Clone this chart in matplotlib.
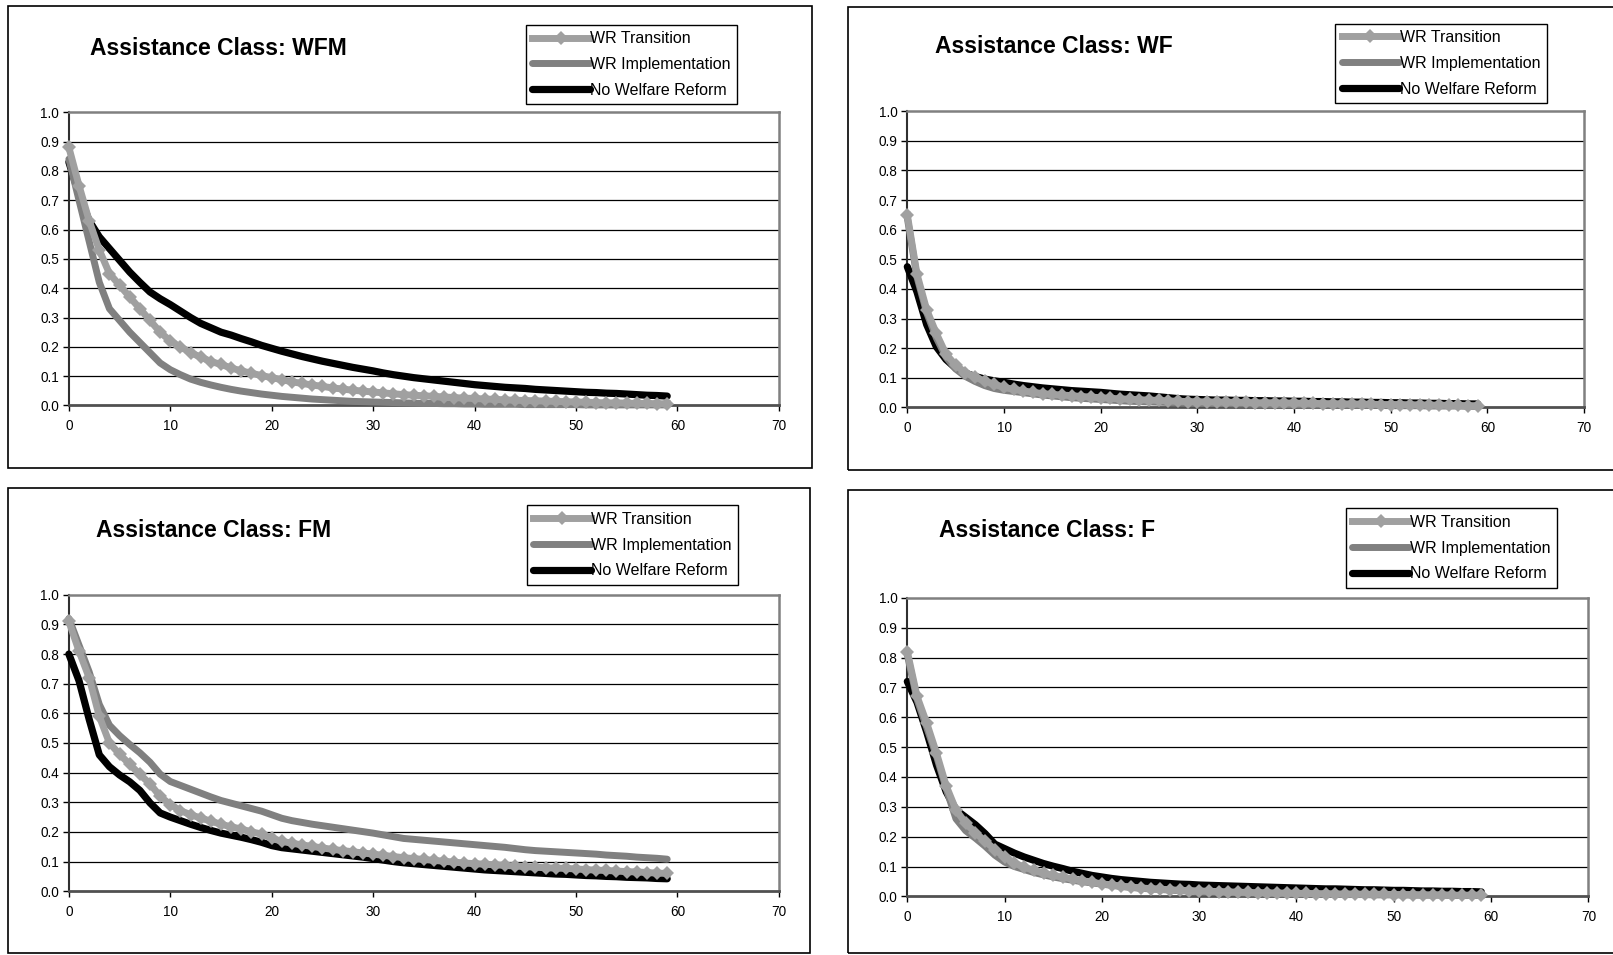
import matplotlib
matplotlib.use("Agg")
import matplotlib.pyplot as plt
from matplotlib.patches import Rectangle

# months since entry, one point per month
months = list(range(60))

series_labels = ["WR Transition", "WR Implementation", "No Welfare Reform"]
class_names = ["WFM", "WF", "FM", "F"]

wfm_transition = [
    0.88, 0.75, 0.63, 0.53, 0.45, 0.41, 0.37, 0.33, 0.29, 0.25,
    0.22, 0.20, 0.18, 0.165, 0.15, 0.14, 0.128, 0.118, 0.11, 0.102,
    0.095, 0.088, 0.081, 0.075, 0.07, 0.065, 0.06, 0.056, 0.052, 0.049,
    0.046, 0.043, 0.04, 0.037, 0.035, 0.033, 0.031, 0.029, 0.027, 0.025,
    0.024, 0.022, 0.021, 0.019, 0.018, 0.017, 0.016, 0.015, 0.014, 0.013,
    0.012, 0.011, 0.01, 0.009, 0.009, 0.008, 0.007, 0.007, 0.006, 0.006,
]
wfm_implementation = [
    0.84, 0.70, 0.56, 0.42, 0.33, 0.29, 0.25, 0.215, 0.18, 0.145,
    0.122, 0.105, 0.09, 0.079, 0.07, 0.062, 0.055, 0.049, 0.044, 0.039,
    0.035, 0.031, 0.028, 0.025, 0.022, 0.02, 0.018, 0.016, 0.014, 0.013,
    0.012, 0.011, 0.01, 0.009, 0.008, 0.007, 0.007, 0.006, 0.006, 0.005,
    0.005, 0.004, 0.004, 0.004, 0.004, 0.003, 0.003, 0.003, 0.003, 0.003,
    0.003, 0.002, 0.002, 0.002, 0.002, 0.002, 0.002, 0.002, 0.002, 0.002,
]
wfm_no_reform = [
    0.83, 0.72, 0.63, 0.575, 0.535, 0.495, 0.455, 0.42, 0.387, 0.364,
    0.344, 0.322, 0.30, 0.28, 0.265, 0.25, 0.24, 0.228, 0.217, 0.205,
    0.195, 0.185, 0.176, 0.167, 0.159, 0.151, 0.144, 0.137, 0.13, 0.124,
    0.118, 0.111, 0.105, 0.1, 0.095, 0.091, 0.087, 0.083, 0.079, 0.075,
    0.071, 0.068, 0.065, 0.062, 0.06, 0.058, 0.055, 0.053, 0.051, 0.049,
    0.047, 0.045, 0.044, 0.042, 0.041, 0.039, 0.037, 0.035, 0.034, 0.032,
]

wf_transition = [
    0.65, 0.45, 0.33, 0.25, 0.18, 0.143, 0.118, 0.103, 0.089, 0.078,
    0.068, 0.061, 0.056, 0.051, 0.047, 0.044, 0.042, 0.04, 0.037, 0.035,
    0.033, 0.031, 0.029, 0.028, 0.026, 0.025, 0.024, 0.022, 0.021, 0.02,
    0.019, 0.019, 0.018, 0.018, 0.017, 0.017, 0.016, 0.016, 0.016, 0.015,
    0.015, 0.014, 0.014, 0.013, 0.013, 0.012, 0.012, 0.011, 0.011, 0.01,
    0.01, 0.01, 0.009, 0.009, 0.008, 0.008, 0.007, 0.007, 0.006, 0.006,
]
wf_implementation = [
    0.64, 0.44, 0.32, 0.235, 0.17, 0.13, 0.105, 0.088, 0.074, 0.064,
    0.058, 0.054, 0.05, 0.046, 0.042, 0.039, 0.036, 0.033, 0.031, 0.029,
    0.027, 0.025, 0.023, 0.021, 0.02, 0.019, 0.018, 0.017, 0.016, 0.015,
    0.014, 0.014, 0.013, 0.013, 0.012, 0.012, 0.011, 0.011, 0.01, 0.01,
    0.01, 0.009, 0.009, 0.009, 0.008, 0.008, 0.008, 0.007, 0.007, 0.007,
    0.006, 0.006, 0.006, 0.006, 0.005, 0.005, 0.005, 0.005, 0.004, 0.004,
]
wf_no_reform = [
    0.475, 0.39, 0.28, 0.205, 0.162, 0.133, 0.116, 0.105, 0.096, 0.09,
    0.085, 0.079, 0.074, 0.07, 0.066, 0.063, 0.06, 0.057, 0.055, 0.053,
    0.051, 0.048, 0.045, 0.043, 0.041, 0.039, 0.036, 0.033, 0.03, 0.028,
    0.027, 0.026, 0.025, 0.025, 0.024, 0.024, 0.023, 0.023, 0.022, 0.022,
    0.021, 0.021, 0.02, 0.02, 0.019, 0.019, 0.018, 0.018, 0.017, 0.017,
    0.016, 0.016, 0.015, 0.015, 0.014, 0.014, 0.013, 0.013, 0.012, 0.012,
]

fm_transition = [
    0.91, 0.81, 0.72, 0.59, 0.50, 0.462, 0.428, 0.394, 0.362, 0.32,
    0.292, 0.272, 0.258, 0.247, 0.236, 0.226, 0.217, 0.21, 0.2, 0.193,
    0.179, 0.168, 0.162, 0.156, 0.151, 0.146, 0.141, 0.137, 0.133, 0.129,
    0.125, 0.121, 0.117, 0.113, 0.11, 0.107, 0.104, 0.101, 0.098, 0.095,
    0.093, 0.091, 0.089, 0.087, 0.085, 0.083, 0.081, 0.079, 0.078, 0.077,
    0.075, 0.073, 0.071, 0.07, 0.068, 0.066, 0.065, 0.063, 0.061, 0.06,
]
fm_implementation = [
    0.92, 0.83, 0.74, 0.63, 0.56, 0.525, 0.495, 0.467, 0.435, 0.395,
    0.37, 0.357, 0.344, 0.331, 0.318, 0.306, 0.297, 0.288, 0.279, 0.27,
    0.258, 0.246, 0.238, 0.232, 0.226, 0.221, 0.216, 0.211, 0.206, 0.201,
    0.196, 0.19, 0.184, 0.178, 0.175, 0.172, 0.169, 0.166, 0.163, 0.16,
    0.157, 0.154, 0.151, 0.148, 0.144, 0.14, 0.137, 0.135, 0.133, 0.131,
    0.129, 0.127, 0.125, 0.122, 0.12, 0.118, 0.115, 0.113, 0.111, 0.108,
]
fm_no_reform = [
    0.80, 0.71, 0.58, 0.46, 0.42, 0.392, 0.369, 0.34, 0.298, 0.264,
    0.25, 0.238, 0.226, 0.215, 0.205, 0.196, 0.189, 0.182, 0.174, 0.165,
    0.154, 0.147, 0.143, 0.139, 0.135, 0.131, 0.127, 0.123, 0.119, 0.115,
    0.11, 0.105, 0.1, 0.096, 0.093, 0.09, 0.087, 0.084, 0.081, 0.078,
    0.075, 0.072, 0.07, 0.068, 0.066, 0.064, 0.062, 0.06, 0.058, 0.057,
    0.055, 0.053, 0.052, 0.05, 0.049, 0.047, 0.046, 0.045, 0.043, 0.042,
]

f_transition = [
    0.82, 0.67, 0.58, 0.48, 0.37, 0.29, 0.245, 0.213, 0.185, 0.157,
    0.132, 0.112, 0.098, 0.087, 0.078, 0.07, 0.064, 0.058, 0.052, 0.047,
    0.042, 0.038, 0.034, 0.031, 0.028, 0.026, 0.024, 0.022, 0.02, 0.019,
    0.018, 0.017, 0.016, 0.015, 0.014, 0.013, 0.012, 0.012, 0.011, 0.011,
    0.01, 0.01, 0.009, 0.009, 0.008, 0.008, 0.008, 0.007, 0.007, 0.007,
    0.006, 0.006, 0.006, 0.005, 0.005, 0.005, 0.004, 0.004, 0.004, 0.004,
]
f_implementation = [
    0.81, 0.66, 0.565, 0.47, 0.36, 0.26, 0.22, 0.195, 0.168, 0.138,
    0.115, 0.1, 0.09, 0.08, 0.072, 0.065, 0.059, 0.054, 0.049, 0.045,
    0.041, 0.037, 0.033, 0.03, 0.027, 0.025, 0.023, 0.021, 0.019, 0.018,
    0.016, 0.015, 0.014, 0.013, 0.012, 0.011, 0.011, 0.01, 0.009, 0.009,
    0.008, 0.008, 0.007, 0.007, 0.007, 0.006, 0.006, 0.006, 0.005, 0.005,
    0.005, 0.005, 0.004, 0.004, 0.004, 0.004, 0.003, 0.003, 0.003, 0.003,
]
f_no_reform = [
    0.72, 0.65, 0.55, 0.44, 0.35, 0.29, 0.265, 0.24, 0.21, 0.175,
    0.16, 0.145, 0.132, 0.121, 0.11, 0.101, 0.093, 0.084, 0.077, 0.07,
    0.065, 0.06, 0.056, 0.053, 0.05, 0.047, 0.045, 0.043, 0.041, 0.04,
    0.038, 0.037, 0.036, 0.035, 0.034, 0.033, 0.032, 0.031, 0.03, 0.029,
    0.028, 0.027, 0.026, 0.025, 0.025, 0.024, 0.023, 0.022, 0.022, 0.021,
    0.02, 0.02, 0.019, 0.018, 0.018, 0.017, 0.017, 0.016, 0.016, 0.015,
]

x_ticks = [0, 10, 20, 30, 40, 50, 60, 70]
y_ticks = [0.0, 0.1, 0.2, 0.3, 0.4, 0.5, 0.6, 0.7, 0.8, 0.9, 1.0]

panel_data = {
    "WFM": (wfm_transition, wfm_implementation, wfm_no_reform),
    "WF": (wf_transition, wf_implementation, wf_no_reform),
    "FM": (fm_transition, fm_implementation, fm_no_reform),
    "F": (f_transition, f_implementation, f_no_reform),
}

# figure-fraction geometry of each panel: frame box, plot area, title anchor, legend anchor
layout = {
    "WFM": dict(box=(0.0051, 0.5097, 0.4981, 0.4838), axes=(0.0427, 0.5754, 0.4401, 0.3071),
                title=(0.0555, 0.9494), legend=(0.3259, 0.9741)),
    "WF": dict(box=(0.5255, 0.5075, 0.4800, 0.4850), axes=(0.5625, 0.5733, 0.4196, 0.3103),
               title=(0.5797, 0.9515), legend=(0.8278, 0.9752)),
    "FM": dict(box=(0.0051, 0.0020, 0.4968, 0.4872), axes=(0.0427, 0.0668, 0.4401, 0.3104),
               title=(0.0593, 0.4450), legend=(0.3265, 0.4709)),
    "F": dict(box=(0.5255, 0.0020, 0.4800, 0.4851), axes=(0.5625, 0.0614, 0.4222, 0.3125),
              title=(0.5823, 0.4440), legend=(0.8342, 0.4677)),
}

plt.rcParams["font.family"] = ["Liberation Sans", "DejaVu Sans"]
title_size, legend_size, tick_size = 16.5, 11.5, 9.8

light_gray = "#a0a0a0"
mid_gray = "#808080"

fig = plt.figure(figsize=(16.13, 9.55), dpi=100)

for name in class_names:
    transition, implementation, no_reform = panel_data[name]
    geo = layout[name]

    bx, by, bw, bh = geo["box"]
    fig.patches.append(Rectangle((bx, by), bw, bh, transform=fig.transFigure,
                                 fill=False, edgecolor="black", linewidth=1.2))

    ax = fig.add_axes(geo["axes"])
    ax.plot(months, no_reform, color="black", linewidth=5.2, zorder=3,
            solid_capstyle="round", solid_joinstyle="round", clip_on=False,
            label=series_labels[2])
    ax.plot(months, implementation, color=mid_gray, linewidth=5, zorder=4,
            solid_capstyle="round", solid_joinstyle="round", clip_on=False,
            label=series_labels[1])
    ax.plot(months, transition, color=light_gray, linewidth=5, zorder=5,
            solid_joinstyle="round", marker="D", markersize=6.8,
            markeredgewidth=0, clip_on=False, label=series_labels[0])

    ax.set_xlim(0, 70)
    ax.set_ylim(0, 1.0)
    ax.set_xticks(x_ticks)
    ax.set_yticks(y_ticks)
    ax.set_yticklabels([f"{v:.1f}" for v in y_ticks])
    ax.tick_params(axis="both", direction="out", length=4, width=1,
                   labelsize=tick_size, color="black", pad=3)
    ax.tick_params(axis="x", pad=6)

    for yv in y_ticks[1:-1]:
        ax.axhline(yv, color="black", linewidth=0.9, zorder=1)

    ax.spines["top"].set_color(mid_gray)
    ax.spines["right"].set_color(mid_gray)
    ax.spines["top"].set_linewidth(1.8)
    ax.spines["right"].set_linewidth(1.8)
    ax.spines["left"].set_color("#303030")
    ax.spines["left"].set_linewidth(1.5)
    ax.spines["bottom"].set_color("#505050")
    ax.spines["bottom"].set_linewidth(2)

    fig.text(*geo["title"], f"Assistance Class: {name}", fontsize=title_size,
             fontweight="bold", ha="left", va="center")

    handles, labels = ax.get_legend_handles_labels()
    leg = ax.legend(handles[::-1], labels[::-1], loc="upper left",
                    bbox_to_anchor=geo["legend"], bbox_transform=fig.transFigure,
                    borderaxespad=0, fontsize=legend_size, frameon=True,
                    fancybox=False, framealpha=1, edgecolor="black",
                    handlelength=3.6, handletextpad=0.05, labelspacing=0.68,
                    borderpad=0.4, numpoints=1)
    leg.get_frame().set_linewidth(1.0)

fig.savefig("out.png", dpi=100)
